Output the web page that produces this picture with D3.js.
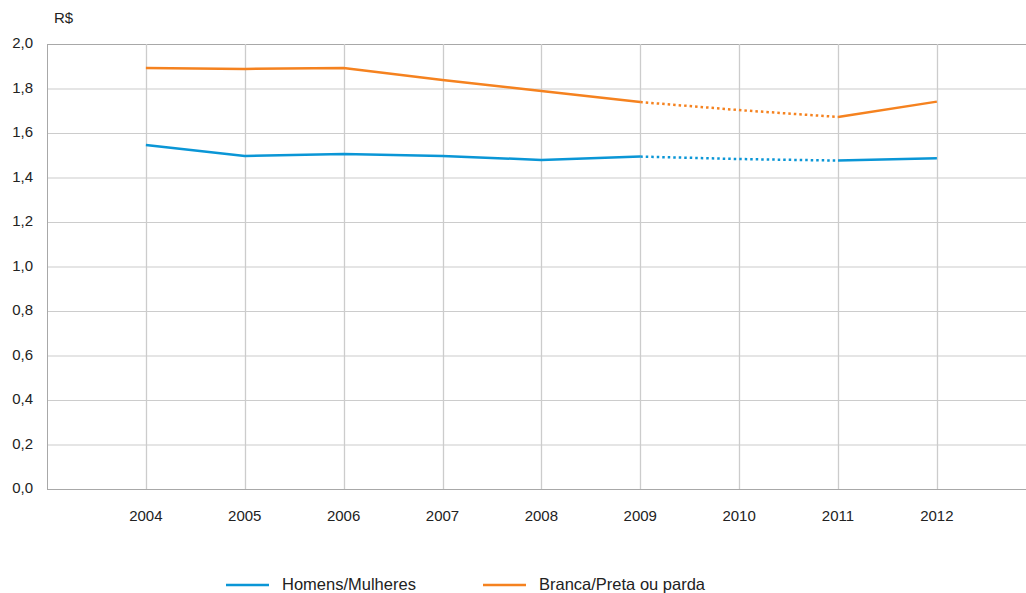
<!DOCTYPE html>
<html>
<head>
<meta charset="utf-8">
<script src="https://cdn.jsdelivr.net/npm/d3@7"></script>
<style>
  body { margin: 0; background: #fff; }
  svg { display: block; font-family: "Liberation Sans", Arial, sans-serif; }
</style>
</head>
<body>
<div id="chart"></div>
<script>
const years = [2004, 2005, 2006, 2007, 2008, 2009, 2010, 2011, 2012];
const homensMulheres = [1.546, 1.497, 1.506, 1.497, 1.479, 1.494, 1.483, 1.476, 1.486];
const brancaPreta = [1.892, 1.888, 1.892, 1.838, 1.789, 1.739, 1.703, 1.672, 1.741];
const yTicks = [0, 0.2, 0.4, 0.6, 0.8, 1.0, 1.2, 1.4, 1.6, 1.8, 2.0];
const seriesNames = ["Homens/Mulheres", "Branca/Preta ou parda"];
const seriesColors = ["#0a96d6", "#f5821f"];
// years with estimated (dotted) segments between them
const dottedFrom = 2009, dottedTo = 2011;

const width = 1026, height = 593;
const plotLeft = 47, plotTop = 44, plotBottom = 489;

const svg = d3.select("#chart").append("svg")
  .attr("width", width)
  .attr("height", height);

const x = d3.scaleLinear().domain([2003, 2013]).range([plotLeft, plotLeft + 10 * 98.875]);
const y = d3.scaleLinear().domain([0, 2]).range([plotBottom, plotTop]);

// horizontal grid
svg.append("g")
  .selectAll("line")
  .data(yTicks)
  .join("line")
  .attr("x1", plotLeft).attr("x2", width)
  .attr("y1", d => y(d) + 0.5).attr("y2", d => y(d) + 0.5)
  .attr("stroke", d => (d === 0 || d === 2) ? "#a8a8a8" : "#cccccc")
  .attr("stroke-width", 1.2);

// vertical grid
svg.append("g")
  .selectAll("line")
  .data(years)
  .join("line")
  .attr("x1", d => Math.round(x(d)) + 0.5).attr("x2", d => Math.round(x(d)) + 0.5)
  .attr("y1", plotTop).attr("y2", plotBottom)
  .attr("stroke", "#cccccc")
  .attr("stroke-width", 1.3);

// left edge
svg.append("line")
  .attr("x1", plotLeft + 0.5).attr("x2", plotLeft + 0.5)
  .attr("y1", plotTop).attr("y2", plotBottom + 1)
  .attr("stroke", "#a8a8a8");

// y tick labels
svg.append("g")
  .selectAll("text")
  .data(yTicks)
  .join("text")
  .attr("x", 33)
  .attr("y", d => y(d) + 4)
  .attr("text-anchor", "end")
  .attr("fill", "#222")
  .style("font-size", "15px")
  .text(d => d3.format(".1f")(d).replace(".", ","));

// x tick labels
svg.append("g")
  .selectAll("text")
  .data(years)
  .join("text")
  .attr("x", d => x(d))
  .attr("y", 521)
  .attr("text-anchor", "middle")
  .attr("fill", "#222")
  .style("font-size", "15px")
  .text(d => d);

svg.append("text")
  .attr("x", 54).attr("y", 23)
  .attr("fill", "#222")
  .style("font-size", "15px")
  .text("R$");

const line = d3.line().x(d => x(d[0])).y(d => y(d[1]));

[homensMulheres, brancaPreta].forEach((vals, i) => {
  const pts = years.map((yr, j) => [yr, vals[j]]);
  const solidA = pts.filter(d => d[0] <= dottedFrom);
  const dotted = pts.filter(d => d[0] >= dottedFrom && d[0] <= dottedTo);
  const solidB = pts.filter(d => d[0] >= dottedTo);
  [solidA, solidB].forEach(seg => {
    svg.append("path")
      .attr("d", line(seg))
      .attr("fill", "none")
      .attr("stroke", seriesColors[i])
      .attr("stroke-width", 2.5);
  });
  svg.append("path")
    .attr("d", line(dotted))
    .attr("fill", "none")
    .attr("stroke", seriesColors[i])
    .attr("stroke-width", 2.5)
    .attr("stroke-dasharray", "2.5,3");
});

// legend
const legendX = [226, 483];
seriesNames.forEach((name, i) => {
  const g = svg.append("g").attr("transform", `translate(${legendX[i]},585)`);
  g.append("line")
    .attr("x1", 0).attr("x2", 43)
    .attr("stroke", seriesColors[i])
    .attr("stroke-width", 2.5);
  g.append("text")
    .attr("x", 56).attr("y", 5)
    .attr("fill", "#222")
    .style("font-size", "16.5px")
    .text(name);
});
</script>
</body>
</html>
